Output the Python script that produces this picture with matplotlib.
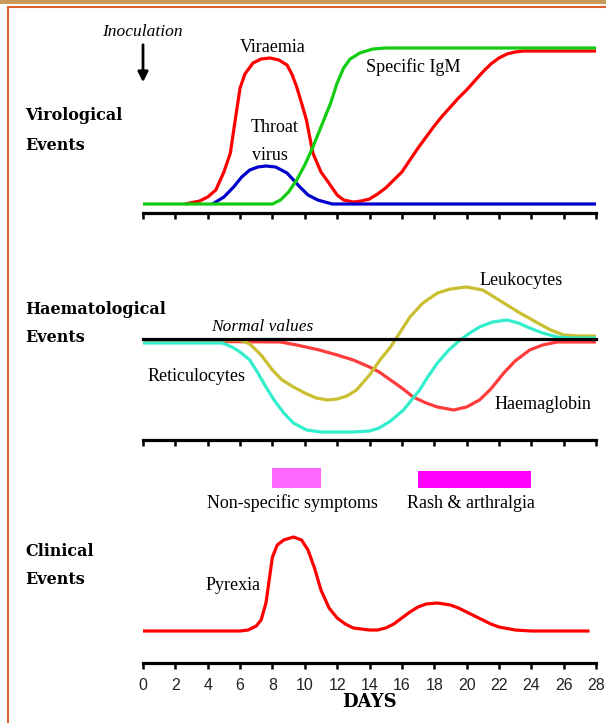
"""
Rubella time course: virological, haematological and clinical events
"""

import matplotlib
matplotlib.use("Agg")
import matplotlib.pyplot as plt
from matplotlib.patches import Rectangle
from matplotlib.lines import Line2D

W, H = 606, 723

# ---------------- data (levels are relative heights, 0 = panel baseline) -----

days_ticks = list(range(0, 29, 2))

# virological panel
viraemia_x = [2.6, 3.5, 4.0, 4.5, 5.0, 5.4, 5.7, 6.0, 6.3, 6.8, 7.3, 7.85, 8.4,
              8.9, 9.2, 9.5, 9.8, 10.1, 10.5, 11.0, 11.4, 12.0, 12.4, 13.0,
              13.5, 14.0, 14.5, 15.0, 15.5, 16.0, 16.5, 17.0, 17.5, 18.0,
              18.5, 19.0, 19.5, 20.0, 20.5, 21.0, 21.5, 22.0, 22.5, 23.0,
              23.5, 28.0]
viraemia_y = [0, 3, 7, 14, 32, 51, 84, 116, 130, 141, 145, 146, 144, 139, 130,
              117, 101, 84, 51, 32, 23, 9, 4, 2, 3, 5, 10, 16, 24, 32, 44, 56,
              67, 78, 88, 97, 106, 114, 123, 132, 140, 146, 150, 152, 153, 153]

throat_x = [4.3, 5.0, 5.6, 6.1, 6.6, 7.1, 7.6, 8.2, 8.9, 9.3, 9.7, 10.2, 10.8,
            11.7, 28.0]
throat_y = [0, 7, 17, 27, 34, 37, 38, 37, 31, 24, 17, 9, 4, 0, 0]

igm_x = [0, 8.0, 8.5, 9.0, 9.5, 10.0, 10.5, 11.0, 11.6, 12.0, 12.4, 12.8, 13.4,
         14.2, 15.0, 28.0]
igm_y = [0, 0, 4, 12, 24, 39, 57, 77, 101, 121, 136, 145, 151, 155, 156, 156]

# haematological panel (0 = normal values)
haemo_x = [0, 8.5, 9.5, 10.9, 12.0, 13.0, 14.0, 14.6, 15.3, 16.0, 16.7, 17.5,
           18.2, 19.2, 20.0, 20.8, 21.5, 22.3, 23.0, 23.9, 24.7, 25.6, 28.0]
haemo_y = [-2, -3, -6, -11, -16, -21, -28, -33, -41, -49, -58, -64, -68, -71,
           -68, -61, -50, -34, -22, -11, -6, -3, -3]

leuko_x = [0, 6.0, 6.6, 7.3, 8.0, 8.6, 9.3, 10.0, 10.7, 11.4, 12.0, 12.6, 13.2,
           14.0, 14.65, 15.3, 16.5, 17.3, 18.2, 19.0, 20.0, 21.0, 22.3, 23.3,
           24.4, 25.2, 26.0, 27.0, 28.0]
leuko_y = [-1, -1, -5, -16, -31, -41, -48, -54, -59, -61, -60, -57, -51, -36,
           -21, -8, 22, 36, 46, 50, 52, 49, 36, 26, 16, 9, 4, 3, 3]

retic_x = [0, 4.9, 5.5, 6.0, 6.6, 7.1, 7.6, 8.1, 8.7, 9.3, 10.1, 11.0, 12.0,
           13.0, 14.0, 14.6, 15.3, 16.1, 16.6, 17.1, 17.6, 18.2, 18.9, 19.6,
           20.2, 20.8, 21.6, 22.5, 23.2, 23.9, 24.7, 25.6, 26.5, 28.0]
retic_y = [-4, -4, -8, -13, -21, -34, -48, -61, -74, -84, -91, -93, -93, -93,
           -92, -89, -82, -71, -61, -51, -38, -24, -11, -1, 6, 12, 17, 19, 16,
           11, 6, 2, 1, 1]

# clinical panel
pyrexia_x = [0, 6.0, 6.5, 7.0, 7.3, 7.6, 7.8, 8.0, 8.3, 8.7, 9.3, 9.8, 10.2,
             10.6, 11.0, 11.5, 12.0, 12.5, 13.0, 14.0, 14.5, 15.0, 15.5, 16.0,
             16.5, 17.0, 17.5, 18.2, 19.0, 19.5, 20.0, 20.5, 21.0, 21.5, 22.0,
             23.0, 24.0, 27.6]
pyrexia_y = [0, 0, 1, 5, 11, 28, 51, 74, 86, 91, 94, 91, 81, 63, 41, 23, 13, 7,
             3, 1, 1, 3, 7, 13, 19, 24, 27, 28, 26, 23, 19, 15, 11, 7, 4, 1, 0,
             0]

symptoms = ["Non-specific symptoms", "Rash & arthralgia"]
symptom_start = [8, 17]
symptom_end = [11, 24]

# ---------------------------------------------------------------------------

SERIF = "Liberation Serif"
BOLD = "DejaVu Serif"


def panel(fig, top_px, bottom_px, ylim, labels=False):
    """ Axes spanning the given pixel rows, only the bottom axis shown """
    ax = fig.add_axes([143 / W, 1 - bottom_px / H, 453 / W,
                       (bottom_px - top_px) / H])
    ax.patch.set_visible(False)
    ax.set_xlim(0, 28)
    ax.set_ylim(*ylim)
    for side in ("top", "left", "right"):
        ax.spines[side].set_visible(False)
    ax.spines["bottom"].set_linewidth(2.3)
    ax.spines["bottom"].set_capstyle("projecting")
    ax.set_yticks([])
    ax.set_xticks(days_ticks)
    ax.tick_params(axis="x", direction="out", length=4, width=1.8, pad=7,
                   labelsize=11.5, labelbottom=labels)
    if labels:
        for lab in ax.get_xticklabels():
            lab.set_family("Liberation Sans")
            lab.set_color("#222222")
    return ax


def curve(ax, x, y, color):
    ax.plot(x, y, color=color, lw=2.3, clip_on=False, solid_capstyle="butt",
            solid_joinstyle="round")


fig = plt.figure(figsize=(W / 100, H / 100), dpi=100)

# frame and top strip
fig.add_artist(Rectangle((0, 1 - 4 / H), 1, 4 / H, transform=fig.transFigure,
                         color="#c89a5c", lw=0))
fig.add_artist(Line2D([8 / W, 8 / W], [0, 1 - 7 / H], transform=fig.transFigure,
                      color="#e0602c", lw=1.5))
fig.add_artist(Line2D([8 / W, 1], [1 - 7 / H, 1 - 7 / H],
                      transform=fig.transFigure, color="#e0602c", lw=1.5))

# ---- virological
ax1 = panel(fig, 20, 213, (-9, 184))
curve(ax1, viraemia_x, viraemia_y, "#ff0000")
curve(ax1, throat_x, throat_y, "#0000cc")
curve(ax1, igm_x, igm_y, "#11cc11")
ax1.annotate("", xy=(0, 119), xytext=(0, 162),
             arrowprops=dict(arrowstyle="-|>,head_width=0.3,head_length=0.6",
                             color="black", lw=2), annotation_clip=False)
ax1.text(-0.06, 172, "Inoculation", family=SERIF, style="italic",
         fontsize=12.5, ha="center", va="center")
ax1.text(8.03, 157, "Viraemia", family=SERIF, fontsize=13, ha="center",
         va="center")
ax1.text(8.16, 77, "Throat", family=SERIF, fontsize=13, ha="center",
         va="center")
ax1.text(7.85, 49, "virus", family=SERIF, fontsize=13, ha="center",
         va="center")
ax1.text(16.7, 137, "Specific IgM", family=SERIF, fontsize=13, ha="center",
         va="center")

# ---- haematological
ax2 = panel(fig, 260, 440, (-101, 79))
curve(ax2, haemo_x, haemo_y, "#ff3b3b")
curve(ax2, leuko_x, leuko_y, "#c8c030")
curve(ax2, retic_x, retic_y, "#33eecc")
ax2.plot([0, 28], [0, 0], color="black", lw=2.3, clip_on=False)
ax2.text(7.4, 12, "Normal values", family=SERIF, style="italic",
         fontsize=12.5, ha="center", va="center")
ax2.text(0.3, -38, "Reticulocytes", family=SERIF, fontsize=13, ha="left",
         va="center")
ax2.text(23.4, 58, "Leukocytes", family=SERIF, fontsize=13, ha="center",
         va="center")
ax2.text(24.7, -66, "Haemaglobin", family=SERIF, fontsize=13, ha="center",
         va="center")

# ---- clinical
ax3 = panel(fig, 455, 663, (-32, 176), labels=True)
bar_colors = ["#ff66ff", "#ff00ff"]
bar_tops = [163, 160]
for name, s, e, c, top in zip(symptoms, symptom_start, symptom_end,
                              bar_colors, bar_tops):
    ax3.bar(s, top - 143, width=e - s, bottom=143, align="edge", color=c,
            lw=0)
    ax3.text((s + e) / 2 - 0.25, 128, name, family=SERIF, fontsize=13,
             ha="center", va="center")
curve(ax3, pyrexia_x, pyrexia_y, "#ff0000")
ax3.text(5.56, 45, "Pyrexia", family=SERIF, fontsize=13, ha="center",
         va="center")

# ---- panel titles
for txt, py in [("Virological", 115), ("Events", 145),
                ("Haematological", 309), ("Events", 338),
                ("Clinical", 552), ("Events", 580)]:
    fig.text(25 / W, 1 - py / H, txt, family=BOLD, weight="bold",
             fontsize=11.5, ha="left", va="center")
fig.text(370 / W, 1 - 702 / H, "DAYS", family=BOLD, weight="bold",
         fontsize=13, ha="center", va="center")

fig.savefig("out.png", dpi=100)
